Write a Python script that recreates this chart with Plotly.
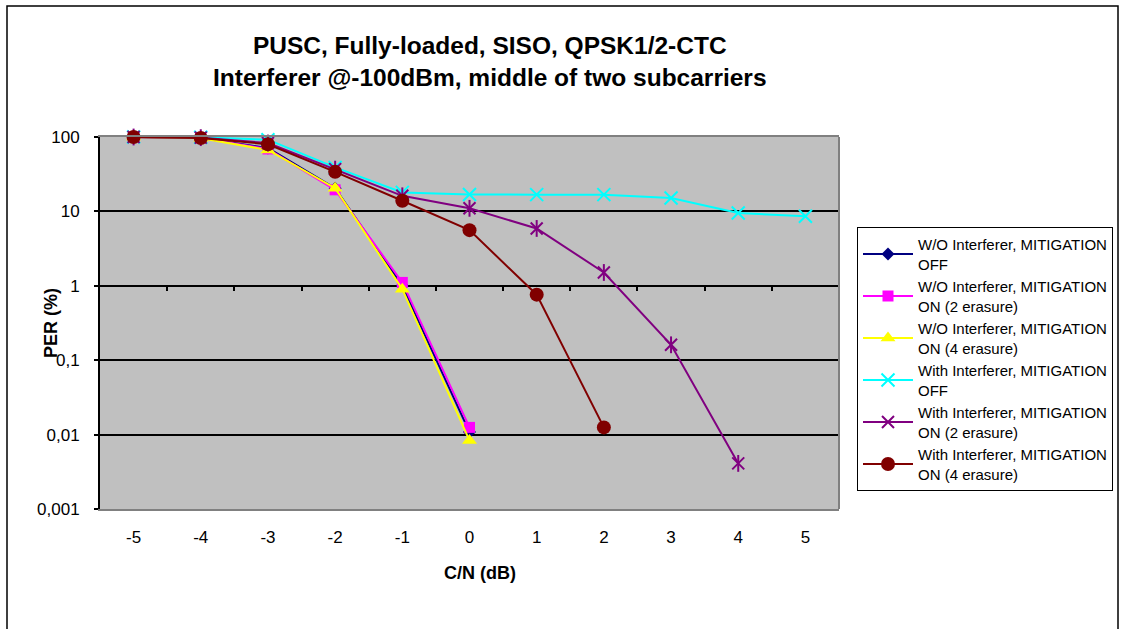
import plotly.graph_objects as go

# ---------------- data ----------------
cn_db = [-5, -4, -3, -2, -1, 0, 1, 2, 3, 4, 5]

wo_off = [100, 97, 71, 20.5, 1.0, 0.0108]
wo_on2 = [100, 97, 69, 19.5, 1.11, 0.0125]
wo_on4 = [100, 96, 67, 20.5, 0.90, 0.0083]
w_off = [100, 99, 92, 39, 18, 16.9, 16.8, 16.8, 15.1, 9.5, 8.6]
w_on2 = [100, 98, 83, 37, 16.2, 11.0, 5.9, 1.51, 0.161, 0.0041]
w_on4 = [100, 97, 80, 34, 13.9, 5.6, 0.76, 0.0125]

names = [
    "W/O Interferer, MITIGATION<br>OFF",
    "W/O Interferer, MITIGATION<br>ON (2 erasure)",
    "W/O Interferer, MITIGATION<br>ON (4 erasure)",
    "With Interferer, MITIGATION<br>OFF",
    "With Interferer, MITIGATION<br>ON (2 erasure)",
    "With Interferer, MITIGATION<br>ON (4 erasure)",
]
y_tickvals = [0.001, 0.01, 0.1, 1, 10, 100]
y_ticktext = ["0,001", "0,01", "0,1", "1", "10", "100"]
x_ticktext = ["-5", "-4", "-3", "-2", "-1", "0", "1", "2", "3", "4", "5"]
title_lines = ["PUSC, Fully-loaded, SISO, QPSK1/2-CTC",
               "Interferer @-100dBm, middle of two subcarriers"]

FONT = "Liberation Sans, Arial, sans-serif"

# ---------------- geometry (px) ----------------
W, H = 1121, 629
L, R, T, B = 100, 839, 137, 509  # plot area
pw, ph = R - L, B - T


def px_x(p):
    return (p - L) / pw


def px_y(p):
    return (B - p) / ph


fig = go.Figure()

series = [
    (wo_off, "#000080", dict(symbol="diamond", size=10)),
    (wo_on2, "#FF00FF", dict(symbol="square", size=11)),
    (wo_on4, "#FFFF00", dict(symbol="triangle-up", size=13)),
    (w_off, "#00FFFF", dict(symbol="x-thin-open", size=13, line=dict(width=2, color="#00FFFF"))),
    (w_on2, "#800080", dict(symbol="x-thin-open", size=12, line=dict(width=2, color="#800080"))),
    (w_on4, "#800000", dict(symbol="circle", size=14)),
]

for i, (vals, col, mk) in enumerate(series):
    m = dict(color=col, **mk)
    fig.add_trace(go.Scatter(
        x=cn_db[:len(vals)], y=vals, mode="lines+markers", name=names[i],
        line=dict(color=col, width=2), marker=m, cliponaxis=False,
    ))
    if i == 4:
        # vertical bar of the Excel "star" marker
        fig.add_trace(go.Scatter(
            x=cn_db[:len(vals)], y=vals, mode="markers", showlegend=False,
            marker=dict(symbol="line-ns-open", size=12, color=col,
                        line=dict(width=2, color=col)),
            hoverinfo="skip", cliponaxis=False,
        ))

# dummy trace so the category axis drawn at PER = 1 exists
fig.add_trace(go.Scatter(x=[None], y=[None], xaxis="x2", showlegend=False,
                         hoverinfo="skip"))

fig.update_layout(
    width=W, height=H,
    margin=dict(l=L, r=W - R, t=T, b=H - B, pad=0, autoexpand=False),
    paper_bgcolor="white",
    plot_bgcolor="#C0C0C0",
    font=dict(family=FONT, color="black", size=17),
    showlegend=True,
    legend=dict(
        x=px_x(857), y=px_y(227), xanchor="left", yanchor="top",
        bordercolor="black", borderwidth=1, bgcolor="white",
        font=dict(family=FONT, size=15, color="black"),
        itemwidth=50,
    ),
    xaxis=dict(
        range=[-5.5, 5.5], tickmode="array", tickvals=cn_db, ticktext=x_ticktext,
        showgrid=False, zeroline=False, showline=True, mirror=True,
        linecolor="#808080", linewidth=2, ticks="",
        ticklabelstandoff=12, tickfont=dict(size=17), automargin=False,
    ),
    xaxis2=dict(
        overlaying="x", anchor="free", position=0.6, side="bottom",
        range=[-5.5, 5.5], tickmode="array",
        tickvals=[v + 0.5 for v in cn_db], showticklabels=False,
        ticks="outside", ticklen=4, tickwidth=2, tickcolor="black",
        showgrid=False, zeroline=False, showline=False,
    ),
    yaxis=dict(
        type="log", range=[-3, 2], tickmode="array", tickvals=y_tickvals,
        ticktext=y_ticktext, showgrid=True, gridcolor="black", gridwidth=2,
        zeroline=False, showline=True, linecolor="black", linewidth=2,
        ticks="outside", ticklen=4, tickwidth=2, tickcolor="black",
        ticklabelstandoff=11, tickfont=dict(size=17), automargin=False,
    ),
    shapes=[
        dict(type="line", xref="x domain", yref="y domain", x0=1, x1=1, y0=0, y1=1,
             line=dict(color="#808080", width=2), layer="above"),
        dict(type="rect", xref="paper", yref="paper",
             x0=px_x(7), x1=px_x(1118), y0=px_y(660), y1=px_y(6),
             line=dict(color="black", width=1.5), layer="above"),
    ],
    annotations=[
        dict(text="<b>" + title_lines[0] + "</b><br><b>" + title_lines[1] + "</b>",
             xref="paper", yref="paper", x=px_x(490), y=px_y(62), xanchor="center",
             yanchor="middle", showarrow=False, align="center",
             font=dict(family=FONT, size=24.5, color="black")),
        dict(text="<b>C/N (dB)</b>", xref="paper", yref="paper", x=px_x(480),
             y=px_y(573), xanchor="center", yanchor="middle", showarrow=False,
             font=dict(family=FONT, size=18, color="black")),
        dict(text="<b>PER (%)</b>", xref="paper", yref="paper", x=px_x(51),
             y=px_y(323), xanchor="center", yanchor="middle", showarrow=False,
             textangle=-90, font=dict(family=FONT, size=18, color="black")),
    ],
)

fig.write_html("out.html")
